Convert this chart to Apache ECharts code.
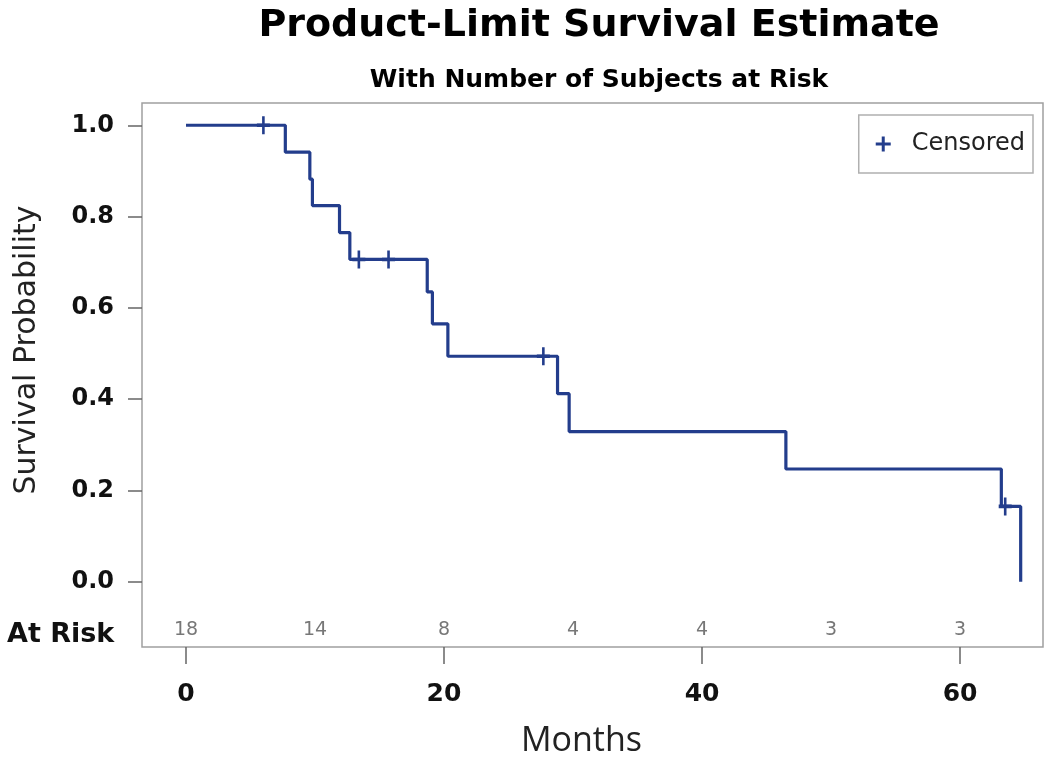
<!DOCTYPE html>
<html>
<head>
<meta charset="utf-8">
<script src="https://cdn.jsdelivr.net/npm/echarts@6/dist/echarts.min.js"></script>
<style>html,body{margin:0;padding:0;background:#fff;}#c{width:1050px;height:763px;}</style>
</head>
<body>
<div id="c"></div>
<script>
// Kaplan-Meier step points (time in months, survival probability after event)
const eventTimes = [0, 7.7, 9.6, 9.8, 11.9, 12.7, 18.7, 19.1, 20.3, 28.8, 29.7, 46.5, 63.2, 64.7];
const survival   = [1.0, 0.941, 0.882, 0.824, 0.765, 0.706, 0.635, 0.565, 0.494, 0.412, 0.329, 0.247, 0.165, 0.0];
// Censored observations
const censorTimes = [6.0, 13.4, 15.7, 27.7, 63.5];
const censorSurv  = [1.0, 0.706, 0.706, 0.494, 0.165];
// Number at risk table
const riskTimes  = [0, 10, 20, 30, 40, 50, 60];
const riskCounts = [18, 14, 8, 4, 4, 3, 3];
const xTicks = [0, 20, 40, 60];
const yTicks = [0, 0.2, 0.4, 0.6, 0.8, 1.0];

const LINE = '#233d8c';
const PLUS = 'path://M4,0 L6,0 L6,4 L10,4 L10,6 L6,6 L6,10 L4,10 L4,6 L0,6 L0,4 L4,4 Z';
const RISK_Y = -0.106;

const chart = echarts.init(document.getElementById('c'), null, {renderer: 'canvas'});
chart.setOption({
  animation: false,
  backgroundColor: '#fff',
  title: [
    {text: 'Product-Limit Survival Estimate', left: 594, top: 2, textAlign: 'center',
     textStyle: {fontFamily: 'DejaVu Sans', fontWeight: 'bold', fontSize: 38, color: '#000'}},
    {text: 'With Number of Subjects at Risk', left: 594, top: 63, textAlign: 'center',
     textStyle: {fontFamily: 'DejaVu Sans', fontWeight: 'bold', fontSize: 25, color: '#000'}}
  ],
  grid: {left: 142, top: 103, width: 901, height: 550, show: true, borderColor: '#a0a0a0', borderWidth: 1.5, backgroundColor: '#fff'},
  legend: {
    data: [{name: 'Censored', icon: PLUS}],
    right: 17, top: 115, orient: 'vertical',
    borderColor: '#b0b0b0', borderWidth: 1.5, borderRadius: 0,
    padding: [17, 8, 17, 17], itemWidth: 15, itemHeight: 15, itemGap: 8,
    textStyle: {fontFamily: 'DejaVu Sans', fontSize: 24, color: '#222', padding: [0, 0, 0, 16], width: 148}
  },
  xAxis: {
    type: 'value', min: -3.41, max: 66.43,
    name: 'Months', nameLocation: 'middle', nameGap: 77,
    nameTextStyle: {fontFamily: 'Open Sans', fontSize: 34, color: '#222', padding: [0, 22, 0, 0]},
    axisLine: {show: false, onZero: false},
    axisTick: {show: true, length: 17, customValues: xTicks, lineStyle: {color: '#666', width: 1.5}},
    axisLabel: {customValues: xTicks, margin: 35, fontFamily: 'DejaVu Sans', fontWeight: 'bold', fontSize: 25, color: '#111'},
    splitLine: {show: false}
  },
  yAxis: {
    type: 'value', min: -0.143, max: 1.0488,
    name: 'Survival Probability', nameLocation: 'middle', nameGap: 100, nameRotate: 90,
    nameTextStyle: {fontFamily: 'DejaVu Sans', fontSize: 30, color: '#222', padding: [0, 0, 0, 50]},
    axisLine: {show: false, onZero: false},
    axisTick: {show: true, length: 14, customValues: yTicks, lineStyle: {color: '#666', width: 1.5}},
    axisLabel: {customValues: yTicks, margin: 28, fontFamily: 'DejaVu Sans', fontWeight: 'bold', fontSize: 24, color: '#111',
                formatter: v => v.toFixed(1)},
    splitLine: {show: false}
  },
  graphic: [
    {type: 'text', left: 7, top: 621, style: {text: 'At Risk', fontFamily: 'DejaVu Sans', fontWeight: 'bold', fontSize: 27, fill: '#111'}}
  ],
  series: [
    {
      name: 'Survival', type: 'line', step: 'end', showSymbol: false, symbol: 'none',
      lineStyle: {color: LINE, width: 3.2},
      data: eventTimes.map((t, i) => [t, survival[i]]),
      z: 3
    },
    {
      name: 'Censored', type: 'scatter', symbol: PLUS, symbolSize: [13, 18],
      itemStyle: {color: LINE, opacity: 1},
      data: censorTimes.map((t, i) => [t, censorSurv[i]]),
      z: 4
    },
    {
      name: 'AtRisk', type: 'scatter', symbolSize: 0, silent: true,
      data: riskTimes.map((t, i) => [t, RISK_Y, riskCounts[i]]),
      label: {show: true, position: 'inside', formatter: p => String(p.value[2]),
              fontFamily: 'DejaVu Sans', fontSize: 19, color: '#555'}
    }
  ]
});
</script>
</body>
</html>
